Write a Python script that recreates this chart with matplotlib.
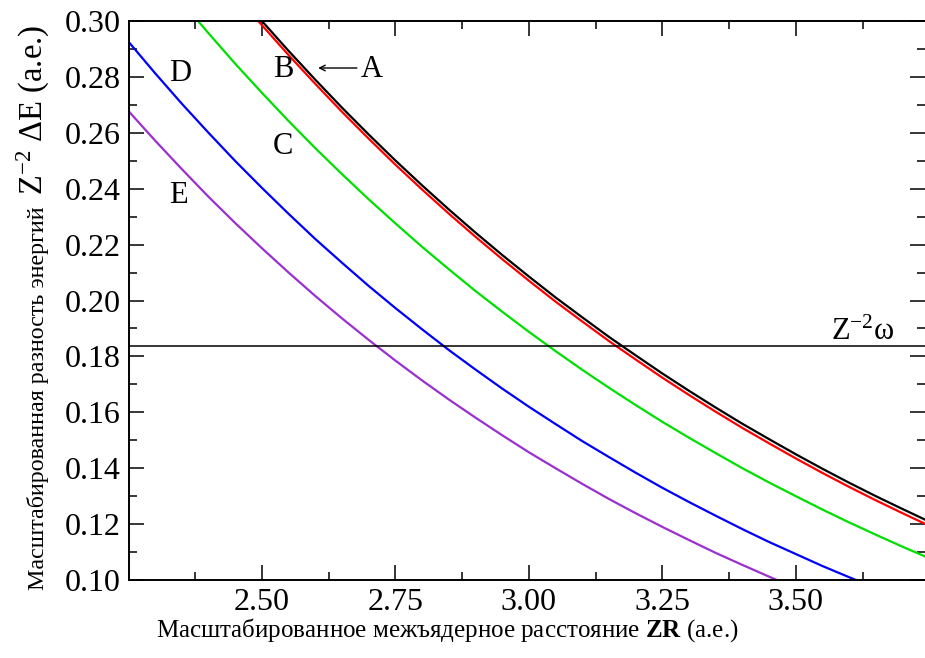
import matplotlib
matplotlib.use("Agg")
import matplotlib.pyplot as plt
from matplotlib.ticker import MultipleLocator, FormatStrFormatter

plt.rcParams['font.family'] = ['Liberation Serif', 'DejaVu Serif']
plt.rcParams['mathtext.fontset'] = 'custom'
plt.rcParams['mathtext.rm'] = 'Liberation Serif'
plt.rcParams['mathtext.it'] = 'Liberation Serif:italic'
plt.rcParams['mathtext.bf'] = 'Liberation Serif:bold'

# scaled internuclear distance ZR (a.u.)
zr = [2.20, 2.25, 2.30, 2.35, 2.40, 2.45, 2.50, 2.55, 2.60, 2.65, 2.70,
      2.75, 2.80, 2.85, 2.90, 2.95, 3.00, 3.05, 3.10, 3.15, 3.20, 3.25,
      3.30, 3.35, 3.40, 3.45, 3.50, 3.55, 3.60, 3.65, 3.70, 3.75, 3.80]

# scaled energy differences Z^-2 dE (a.u.) for curves A..E
curve_a = [0.3731, 0.3598, 0.3470, 0.3346, 0.3226, 0.3111, 0.3000, 0.2893, 0.2790,
           0.2690, 0.2594, 0.2501, 0.2412, 0.2326, 0.2243, 0.2163, 0.2086, 0.2011,
           0.1940, 0.1870, 0.1804, 0.1739, 0.1677, 0.1617, 0.1559, 0.1504, 0.1450,
           0.1398, 0.1348, 0.1300, 0.1254, 0.1209, 0.1166]
curve_b = [0.3716, 0.3583, 0.3455, 0.3331, 0.3211, 0.3096, 0.2985, 0.2878, 0.2775,
           0.2675, 0.2579, 0.2486, 0.2397, 0.2311, 0.2228, 0.2148, 0.2071, 0.1996,
           0.1925, 0.1855, 0.1789, 0.1724, 0.1662, 0.1602, 0.1544, 0.1489, 0.1435,
           0.1383, 0.1333, 0.1285, 0.1239, 0.1194, 0.1151]
curve_c = [0.3432, 0.3306, 0.3185, 0.3068, 0.2956, 0.2847, 0.2743, 0.2642, 0.2545,
           0.2452, 0.2362, 0.2276, 0.2192, 0.2112, 0.2034, 0.1960, 0.1888, 0.1819,
           0.1752, 0.1688, 0.1626, 0.1566, 0.1509, 0.1454, 0.1400, 0.1349, 0.1300,
           0.1252, 0.1206, 0.1162, 0.1119, 0.1078, 0.1039]
curve_d = [0.3043, 0.2926, 0.2813, 0.2704, 0.2600, 0.2499, 0.2403, 0.2310, 0.2220,
           0.2135, 0.2052, 0.1973, 0.1897, 0.1823, 0.1753, 0.1685, 0.1620, 0.1558,
           0.1497, 0.1440, 0.1384, 0.1330, 0.1279, 0.1230, 0.1182, 0.1136, 0.1093,
           0.1050, 0.1010, 0.0971, 0.0933, 0.0897, 0.0863]
curve_e = [0.2789, 0.2678, 0.2572, 0.2470, 0.2371, 0.2277, 0.2187, 0.2100, 0.2016,
           0.1936, 0.1859, 0.1785, 0.1714, 0.1646, 0.1581, 0.1518, 0.1457, 0.1400,
           0.1344, 0.1290, 0.1239, 0.1190, 0.1143, 0.1097, 0.1054, 0.1012, 0.0971,
           0.0933, 0.0896, 0.0860, 0.0826, 0.0793, 0.0762]

omega_level = 0.1837

fig = plt.figure(figsize=(9.25, 6.58), dpi=100)
ax = fig.add_axes([0.1395, 0.1185, 0.8605, 0.8495])

ax.plot(zr, curve_e, color='#9a30d0', lw=1.6)
ax.plot(zr, curve_d, color='#0000ff', lw=1.6)
ax.plot(zr, curve_c, color='#00e000', lw=1.6)
ax.plot(zr, curve_b, color='#ff0000', lw=1.6)
ax.plot(zr, curve_a, color='black', lw=1.6)
ax.axhline(omega_level, color='black', lw=1.1)

ax.set_xlim(2.251, 3.742)
ax.set_ylim(0.10, 0.30)
ax.xaxis.set_major_locator(MultipleLocator(0.25))
ax.xaxis.set_minor_locator(MultipleLocator(0.125))
ax.yaxis.set_major_locator(MultipleLocator(0.02))
ax.yaxis.set_minor_locator(MultipleLocator(0.01))
ax.xaxis.set_major_formatter(FormatStrFormatter('%.2f'))
ax.yaxis.set_major_formatter(FormatStrFormatter('%.2f'))
ax.tick_params(which='both', direction='in', top=True, right=True,
               labelsize=23, width=1.1)
ax.tick_params(which='major', length=11, pad=6)
ax.tick_params(which='minor', length=5.5)
for sp in ax.spines.values():
    sp.set_linewidth(1.4)
ax.spines['right'].set_visible(False)

# curve labels
txt = dict(fontsize=22, ha='center', va='center')
ax.text(2.706, 0.2825, 'A', **txt)
ax.text(2.540, 0.2825, 'B', **txt)
ax.text(2.539, 0.2550, 'C', **txt)
ax.text(2.346, 0.2814, 'D', **txt)
ax.text(2.343, 0.2377, 'E', **txt)
ax.annotate('', xy=(2.600, 0.2832), xytext=(2.683, 0.2832),
            arrowprops=dict(arrowstyle='->', color='black', lw=1.0))
ax.text(3.625, 0.1887, r'Z$^{\mathrm{-2}}$ω', **txt)

fig.text(0.483, 0.042, r'Масштабированное межъядерное расстояние $\mathbf{ZR}$ (а.е.)',
         fontsize=18, ha='center', va='center')
fig.text(0.041, 0.395, 'Масштабированная разность энергий', fontsize=17.3,
         rotation=90, ha='center', va='center')
fig.text(0.036, 0.833, r'Z$^{\mathrm{-2}}$ ΔE (a.e.)', fontsize=23.5,
         rotation=90, ha='center', va='center')

fig.savefig('out.png', dpi=100)
